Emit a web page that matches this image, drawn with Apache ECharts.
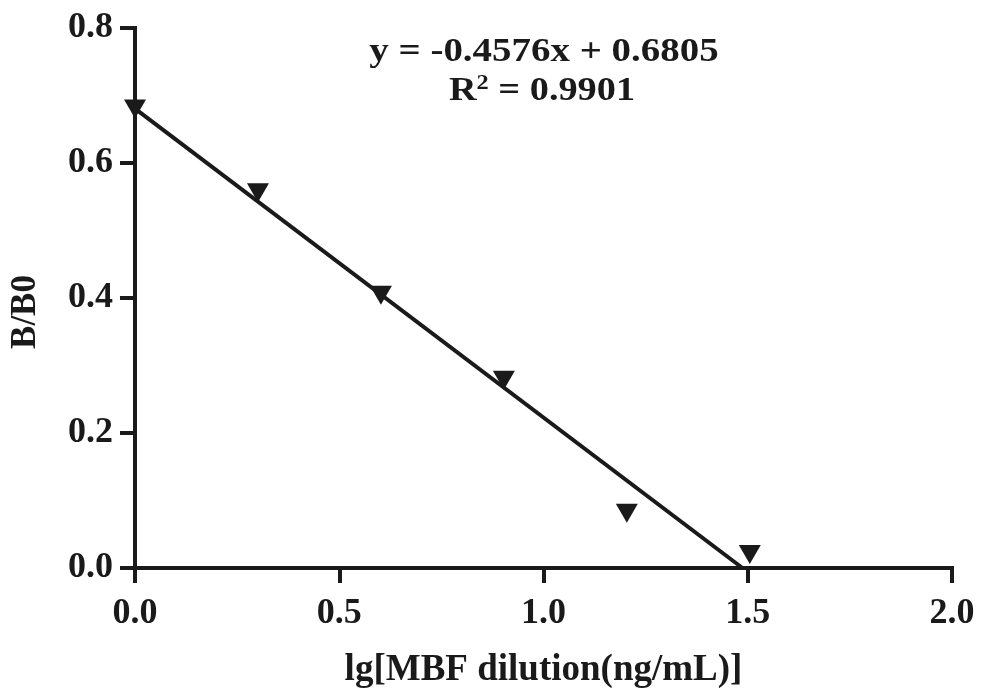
<!DOCTYPE html>
<html>
<head>
<meta charset="utf-8">
<script src="https://cdn.jsdelivr.net/npm/echarts@6/dist/echarts.min.js"></script>
<style>html,body{margin:0;padding:0;background:#fff}#c{width:992px;height:691px}</style>
</head>
<body>
<div id="c"></div>
<script>
const xValues = [0, 0.301, 0.602, 0.903, 1.204, 1.505];
const yValues = [0.68, 0.556, 0.404, 0.278, 0.081, 0.020];
const slope = -0.4576;
const intercept = 0.6805;
const r2 = 0.9901;
const xTicks = [0, 0.5, 1.0, 1.5, 2.0];
const yTicks = [0, 0.2, 0.4, 0.6, 0.8];
const xTitle = 'lg[MBF dilution(ng/mL)]';
const yTitle = 'B/B0';

const ink = '#1a1a1a';
const font = "'Liberation Serif', 'Times New Roman', serif";
const points = xValues.map((x, i) => [x, yValues[i]]);
const fitLine = [[0, intercept], [-intercept / slope, 0]];

const chart = echarts.init(document.getElementById('c'));
chart.setOption({
  backgroundColor: '#fff',
  animation: false,
  grid: {left: 135, right: 40, top: 28, bottom: 123, outerBoundsMode: 'none', containLabel: false},
  xAxis: {
    type: 'value', min: xTicks[0], max: xTicks[xTicks.length - 1], interval: 0.5,
    splitLine: {show: false},
    axisLine: {show: true, onZero: false, lineStyle: {color: ink, width: 4, cap: 'square'}},
    axisTick: {show: true, inside: false, length: 15, lineStyle: {color: ink, width: 4}},
    axisLabel: {margin: 28, color: ink, fontFamily: font, fontWeight: 'bold', fontSize: 36,
      formatter: v => v.toFixed(1)},
    name: xTitle, nameLocation: 'middle', nameGap: 84,
    nameTextStyle: {color: ink, fontFamily: font, fontWeight: 'bold', fontSize: 37}
  },
  yAxis: {
    type: 'value', min: yTicks[0], max: yTicks[yTicks.length - 1], interval: 0.2,
    splitLine: {show: false},
    axisLine: {show: true, onZero: false, lineStyle: {color: ink, width: 4, cap: 'square'}},
    axisTick: {show: true, inside: false, length: 15, lineStyle: {color: ink, width: 4}},
    axisLabel: {margin: 22, color: ink, fontFamily: font, fontWeight: 'bold', fontSize: 36,
      formatter: v => v.toFixed(1)},
    name: yTitle, nameLocation: 'middle', nameGap: 92, nameRotate: 90,
    nameTextStyle: {color: ink, fontFamily: font, fontWeight: 'bold', fontSize: 35, padding: [0, 28, 0, 0]}
  },
  series: [
    {
      type: 'line', data: fitLine, symbol: 'none', silent: true,
      lineStyle: {color: ink, width: 4}, z: 2
    },
    {
      type: 'scatter', data: points, symbol: 'triangle', symbolRotate: 180,
      symbolSize: [22, 19], itemStyle: {color: ink, opacity: 1}, z: 3
    }
  ],
  graphic: [
    {
      type: 'text', x: 544, y: 52, scaleX: 1.18,
      style: {text: 'y = -0.4576x + 0.6805', fill: ink, font: 'bold 33px ' + font,
        textAlign: 'center', textVerticalAlign: 'middle'}
    },
    {
      type: 'text', x: 542, y: 91, scaleX: 1.16,
      style: {
        text: '{a|R}{s|2}{a| = ' + r2.toFixed(4) + '}',
        textAlign: 'center', textVerticalAlign: 'middle',
        rich: {
          a: {fontFamily: font, fontWeight: 'bold', fontSize: 33, fill: ink, color: ink},
          s: {fontFamily: font, fontWeight: 'bold', fontSize: 21, fill: ink, color: ink, verticalAlign: 'top', padding: [0, 0, 14, 0]}
        }
      }
    }
  ]
});
</script>
</body>
</html>
